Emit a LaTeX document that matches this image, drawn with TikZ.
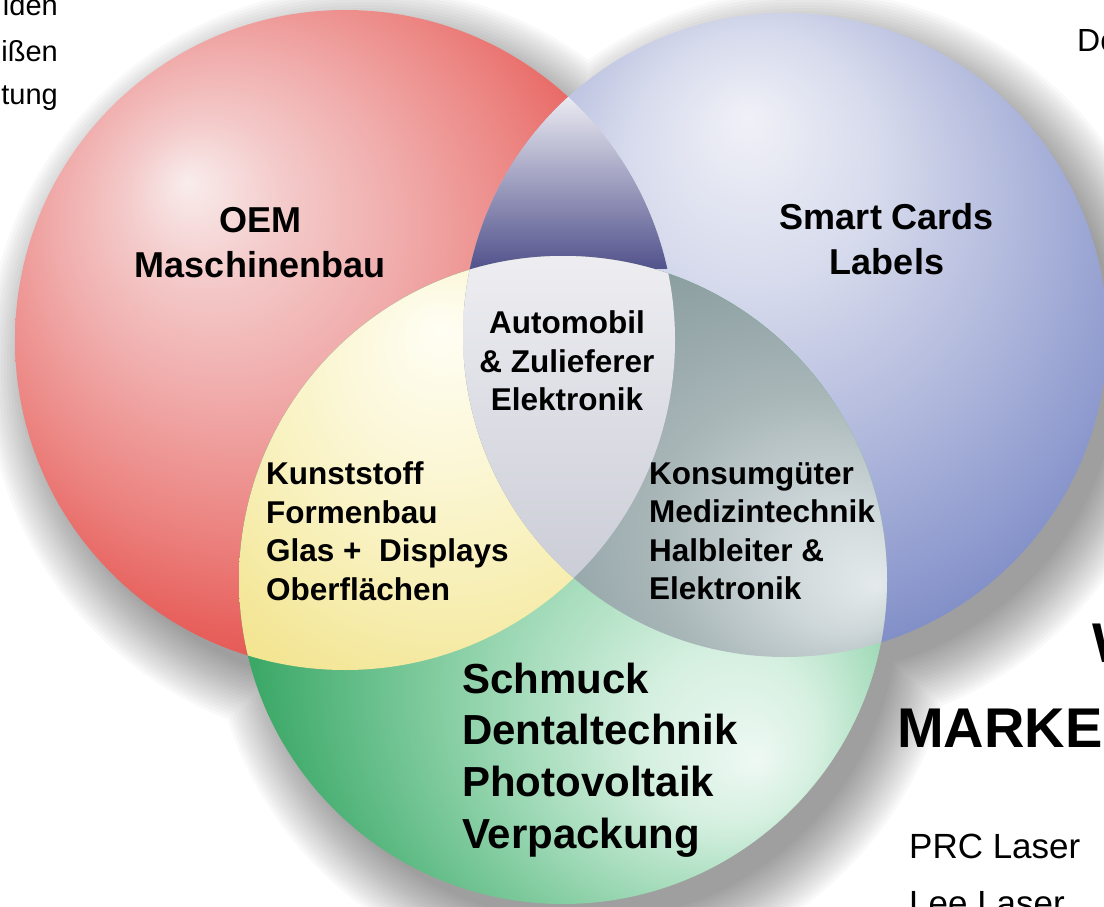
\documentclass[tikz,border=0pt]{standalone}
\usepackage{fontspec}
\setmainfont{Liberation Sans}

% circle colours
\definecolor{redA}{HTML}{F9ECEC}
\definecolor{redB}{HTML}{F4CACA}
\definecolor{redC}{HTML}{F0ACAB}
\definecolor{redD}{HTML}{EC8683}
\definecolor{redE}{HTML}{E75F5B}
\definecolor{redF}{HTML}{DF3E3B}
\definecolor{redG}{HTML}{D63332}
\definecolor{blueA}{HTML}{F0F1F7}
\definecolor{blueB}{HTML}{D6DAEC}
\definecolor{blueC}{HTML}{B8BFDF}
\definecolor{blueD}{HTML}{909CCF}
\definecolor{blueE}{HTML}{6E7EBE}
\definecolor{blueF}{HTML}{5768B1}
\definecolor{blueG}{HTML}{4F60A9}
\definecolor{greenA}{HTML}{EEF9F3}
\definecolor{greenB}{HTML}{D4EFDF}
\definecolor{greenC}{HTML}{A5DCBB}
\definecolor{greenD}{HTML}{6FC391}
\definecolor{greenE}{HTML}{3BA867}
\definecolor{greenF}{HTML}{21974F}
\definecolor{greenG}{HTML}{1A8A47}
% overlap colours
\definecolor{lensTop}{HTML}{F0F0F6}
\definecolor{lensMid}{HTML}{ADAECD}
\definecolor{lensBot}{HTML}{53538D}
\definecolor{yellowA}{HTML}{FFFEF4}
\definecolor{yellowB}{HTML}{FCF8DC}
\definecolor{yellowC}{HTML}{F8F0BA}
\definecolor{yellowD}{HTML}{F3E593}
\definecolor{yellowE}{HTML}{EFDD78}
\definecolor{slateA}{HTML}{E4EAEC}
\definecolor{slateB}{HTML}{CDD6D8}
\definecolor{slateC}{HTML}{A7B5B7}
\definecolor{slateD}{HTML}{8B9EA0}
\definecolor{slateE}{HTML}{7A8F91}
\definecolor{slateF}{HTML}{738789}
\definecolor{midTop}{HTML}{EEEEF2}
\definecolor{midMid}{HTML}{E4E4EA}
\definecolor{midBot}{HTML}{CACCD6}

\pgfdeclareradialshading{redball}{\pgfpoint{-12bp}{12bp}}{%
  color(0bp)=(redA); color(6bp)=(redB); color(13bp)=(redC); color(21bp)=(redD);
  color(28bp)=(redE); color(36bp)=(redF); color(50bp)=(redG)}
\pgfdeclareradialshading{blueball}{\pgfpoint{-3bp}{17bp}}{%
  color(0bp)=(blueA); color(10bp)=(blueB); color(18bp)=(blueC); color(28bp)=(blueD);
  color(36bp)=(blueE); color(44bp)=(blueF); color(50bp)=(blueG)}
\pgfdeclareradialshading{greenball}{\pgfpoint{15bp}{-14bp}}{%
  color(0bp)=(greenA); color(7bp)=(greenB); color(14bp)=(greenC); color(22bp)=(greenD);
  color(30bp)=(greenE); color(38bp)=(greenF); color(50bp)=(greenG)}
\pgfdeclareradialshading{yellowglow}{\pgfpoint{-2bp}{16bp}}{%
  color(0bp)=(yellowA); color(10bp)=(yellowB); color(22bp)=(yellowC);
  color(34bp)=(yellowD); color(50bp)=(yellowE)}
\pgfdeclareradialshading{slateglow}{\pgfpoint{23bp}{-15bp}}{%
  color(0bp)=(slateA); color(8bp)=(slateB); color(18bp)=(slateC);
  color(30bp)=(slateD); color(42bp)=(slateE); color(50bp)=(slateF)}

\begin{document}
\begin{tikzpicture}[x = 1pt, y = -1pt,
    bigtag/.style = {font = \bfseries\fontsize{36}{45}\selectfont, align = center, inner sep = 0pt},
    midtag/.style = {font = \bfseries\fontsize{31.5}{38.5}\selectfont, inner sep = 0pt},
    greentag/.style = {font = \bfseries\fontsize{42}{51.7}\selectfont, align = left, inner sep = 0pt},
    edgetext/.style = {font = \fontsize{29}{35}\selectfont, inner sep = 0pt},
    sidetext/.style = {font = \fontsize{35}{42}\selectfont, inner sep = 0pt},
    headtext/.style = {font = \bfseries\fontsize{56}{68}\selectfont, inner sep = 0pt}]
    \useasboundingbox (0,0) rectangle (1104,907);
    \clip (0,0) rectangle (1104,907);
    \coordinate (cr) at (345,340);
    \coordinate (cb) at (785,335);
    \coordinate (cg) at (563,580);
    % soft shadow
    \foreach \k in {0,...,19}
      \fill[black, opacity = .022]
        ([shift = {(20,26)}]cr) circle[radius = 322+3*\k]
        ([shift = {(20,26)}]cb) circle[radius = 314+3*\k]
        ([shift = {(20,26)}]cg) circle[radius = 316+3*\k];
    % circles
    \shade[shading = redball] (cr) circle[radius = 330];
    \shade[shading = blueball] (cb) circle[radius = 322];
    \shade[shading = greenball] (cg) circle[radius = 324];
    % overlaps
    \begin{scope}
      \clip (cr) circle[radius = 330];
      \clip (cb) circle[radius = 322];
      \shade[top color = lensTop, middle color = lensMid, bottom color = lensBot] (455,90) rectangle (675,268);
    \end{scope}
    \begin{scope}
      \clip (cr) circle[radius = 330];
      \clip (cg) circle[radius = 324];
      \shade[shading = yellowglow] (235,250) rectangle (680,680);
    \end{scope}
    \begin{scope}
      \clip (cb) circle[radius = 322];
      \clip (cg) circle[radius = 324];
      \shade[shading = slateglow] (455,250) rectangle (895,670);
    \end{scope}
    \begin{scope}
      \clip (cr) circle[radius = 330];
      \clip (cb) circle[radius = 322];
      \clip (cg) circle[radius = 324];
      \shade[top color = midTop, middle color = midMid, bottom color = midBot] (455,250) rectangle (680,590);
    \end{scope}
    % Labels
    \node[bigtag] (oem) at (260,243) {OEM\\Maschinenbau};
    \node[bigtag] (smart) at (887,239) {Smart Cards\\Labels};
    \node[midtag, align = center] (auto) at (567,361) {Automobil\\\& Zulieferer\\Elektronik};
    \node[midtag, align = left, anchor = west] (plastic) at (266,531) {Kunststoff\\Formenbau\\Glas +~ Displays\\Oberflächen};
    \node[midtag, align = left, anchor = west] (consumer) at (649,531) {Konsumgüter\\Medizintechnik\\Halbleiter \&\\Elektronik};
    \node[greentag, anchor = west] (jewel) at (462,760) {Schmuck\\Dentaltechnik\\Photovoltaik\\Verpackung};
    % cut-off texts at the edges
    \node[edgetext, anchor = base east] (cutA) at (58,16) {iden};
    \node[edgetext, anchor = base east] (cutB) at (58,62) {ißen};
    \node[edgetext, anchor = base east] (cutC) at (58,104) {tung};
    \node[edgetext, font = \fontsize{32}{38}\selectfont, anchor = base west] (doText) at (1077,52) {Do};
    \node[headtext, anchor = base west] (markW) at (1092,662) {W};
    \node[headtext, anchor = base west] (market) at (897,747) {MARKE};
    \node[sidetext, anchor = base west] (prc) at (909,858) {PRC Laser};
    \node[sidetext, anchor = base west] (lee) at (909,915) {Lee Laser};
\end{tikzpicture}
\end{document}
